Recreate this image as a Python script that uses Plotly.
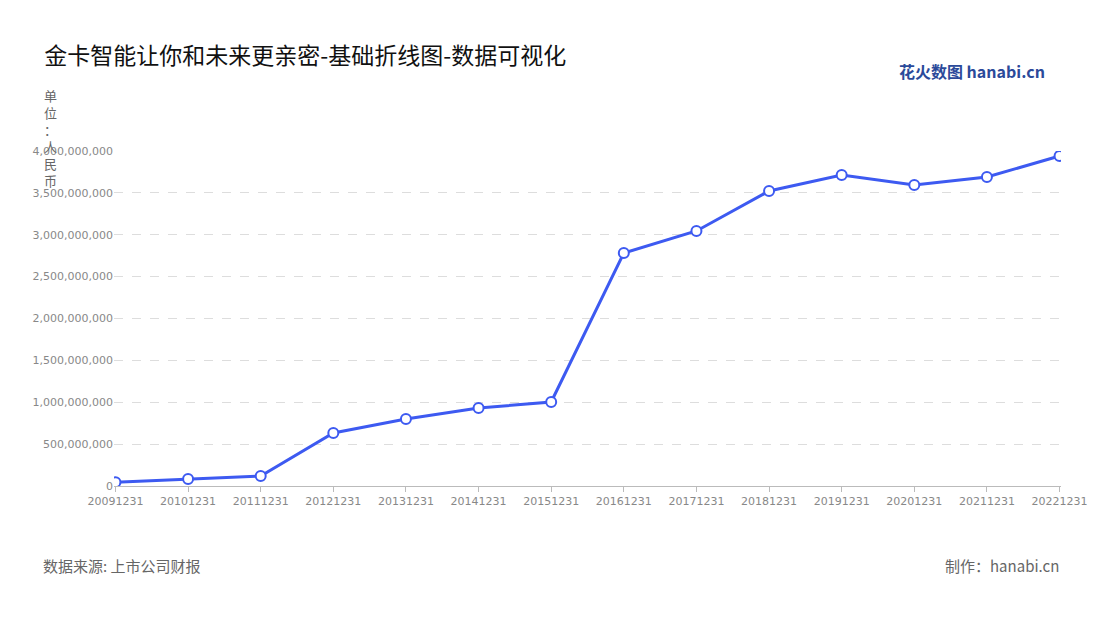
import plotly.graph_objects as go

years = ["20091231", "20101231", "20111231", "20121231", "20131231", "20141231", "20151231",
         "20161231", "20171231", "20181231", "20191231", "20201231", "20211231", "20221231"]
revenue = [45e6, 84e6, 120e6, 633e6, 800e6, 931e6, 1003e6,
           2782e6, 3045e6, 3522e6, 3713e6, 3594e6, 3690e6, 3940e6]
tick_vals = [0, 5e8, 1e9, 1.5e9, 2e9, 2.5e9, 3e9, 3.5e9, 4e9]
tick_text = ["0", "500,000,000", "1,000,000,000", "1,500,000,000", "2,000,000,000",
             "2,500,000,000", "3,000,000,000", "3,500,000,000", "4,000,000,000"]

font = "Noto Sans CJK SC"
fig = go.Figure(go.Scatter(
    x=years, y=revenue, mode="lines+markers",
    line=dict(color="#3d5af1", width=3),
    marker=dict(size=10, color="white", line=dict(color="#3d5af1", width=2)),
))
fig.update_layout(
    width=1100, height=620, plot_bgcolor="white", paper_bgcolor="white",
    margin=dict(l=106, r=47, t=143, b=142),
    font=dict(family=font, color="#888"),
    showlegend=False,
    title=dict(text="金卡智能让你和未来更亲密-基础折线图-数据可视化", x=0.033, y=0.935,
               font=dict(size=23, color="#111")),
    xaxis=dict(type="category", range=[-0.02, 13.02], showgrid=False,
               showline=True, linecolor="#bbb", ticks="outside", tickcolor="#bbb",
               tickfont=dict(size=11, color="#888", family="DejaVu Sans")),
    yaxis=dict(range=[0, 4e9], tickvals=tick_vals, ticktext=tick_text,
               gridcolor="#ddd", griddash="dash", zeroline=False,
               tickfont=dict(size=11, color="#888", family="DejaVu Sans")),
)
fig.add_annotation(text="单<br>位<br>：<br>人<br>民<br>币", xref="paper", yref="paper",
                   x=-0.076, y=1.2, showarrow=False, align="center", yanchor="top",
                   font=dict(size=13, color="#666"))
fig.add_annotation(text="数据来源: 上市公司财报", xref="paper", yref="paper",
                   x=-0.077, xanchor="left", y=-0.275, showarrow=False,
                   font=dict(size=15, color="#666"))
fig.add_annotation(text="制作：hanabi.cn", xref="paper", yref="paper",
                   x=1.0, xanchor="right", y=-0.275, showarrow=False,
                   font=dict(size=15, color="#666"))
fig.add_annotation(text="<b>花火数图</b> <b>hanabi.cn</b>", xref="paper", yref="paper",
                   x=0.985, xanchor="right", y=1.28, showarrow=False,
                   font=dict(size=16, color="#2b4a9a"))
fig.write_html("out.html")
